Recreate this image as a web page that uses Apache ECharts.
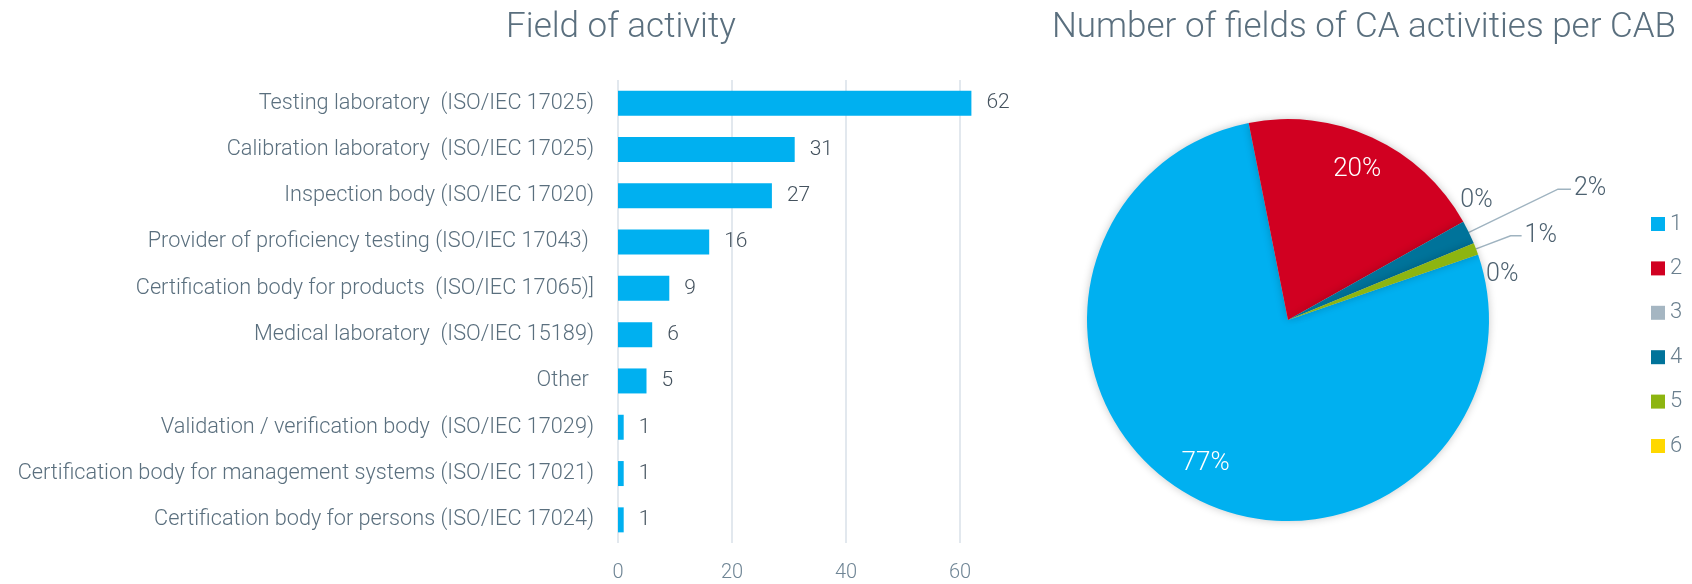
<!DOCTYPE html>
<html>
<head>
<meta charset="utf-8">
<title>Field of activity</title>
<script src="https://cdn.jsdelivr.net/npm/echarts@6/dist/echarts.min.js"></script>
<style>
    html, body { margin: 0; padding: 0; background: #fff; }
    #main { width: 1692px; height: 584px; }
</style>
</head>
<body>
<div id="main"></div>
<script>
var FONT = 'Roboto, "Open Sans", sans-serif';

// left chart: fields of activity
var activityNames = [
    'Testing laboratory  (ISO/IEC 17025)',
    'Calibration laboratory  (ISO/IEC 17025)',
    'Inspection body (ISO/IEC 17020)',
    'Provider of proficiency testing (ISO/IEC 17043) ',
    'Certification body for products  (ISO/IEC 17065)]',
    'Medical laboratory  (ISO/IEC 15189)',
    'Other ',
    'Validation / verification body  (ISO/IEC 17029)',
    'Certification body for management systems (ISO/IEC 17021)',
    'Certification body for persons (ISO/IEC 17024)'
];
var activityCounts = [62, 31, 27, 16, 9, 6, 5, 1, 1, 1];
var activityTicks = [0, 20, 40, 60];

// right chart: number of fields per CAB
var fieldsPerCab = ['1', '2', '3', '4', '5', '6'];
var cabCounts = [81, 21, 0, 2, 1, 0];
var cabColors = ['#00b0f0', '#d10021', '#a5b6c2', '#00739a', '#8db510', '#ffd800'];

// callout placement for the small slices (null = label inside the slice)
var callouts = [
    null,
    null,
    { line: false, length: 0, length2: 0, distance: -3, dx: 0, dy: -21 },
    { line: true, length: 99, length2: 13, distance: 3 },
    { line: true, length: 37, length2: 11, distance: 3 },
    { line: false, length: 0, length2: 0, distance: 3, dx: 5, dy: 20 }
];

var cabTotal = 0;
cabCounts.forEach(function (v) { cabTotal += v; });

function pct(params) {
    return Math.round(params.value / cabTotal * 100) + '%';
}

var outerData = [];
var innerData = [];
fieldsPerCab.forEach(function (name, i) {
    var c = callouts[i];
    outerData.push({
        name: name,
        value: cabCounts[i],
        itemStyle: { color: cabColors[i] },
        label: c ? { show: true, distanceToLabelLine: c.distance } : { show: false },
        labelLine: c ? { show: c.line, length: c.length, length2: c.length2 } : { show: false }
    });
    innerData.push({
        name: name,
        value: cabCounts[i],
        label: { show: !c }
    });
});

var chart = echarts.init(document.getElementById('main'));

var option = {
    animation: false,
    title: [{
        text: 'Field of activity',
        left: 616,
        top: 6,
        textAlign: 'center',
        textStyle: { fontFamily: FONT, fontSize: 35, fontWeight: 300, color: '#5a6f7e' }
    }, {
        text: 'Number of fields of CA activities per CAB',
        left: 1359,
        top: 6,
        textAlign: 'center',
        textStyle: { fontFamily: FONT, fontSize: 35, fontWeight: 300, color: '#5a6f7e' }
    }],
    legend: {
        orient: 'vertical',
        left: 1651,
        top: 213,
        padding: 0,
        icon: 'rect',
        itemWidth: 14,
        itemHeight: 14,
        itemGap: 22.4,
        selectedMode: false,
        data: fieldsPerCab,
        textStyle: { fontFamily: FONT, fontSize: 22, fontWeight: 300, color: '#6a7f8e', lineHeight: 22 }
    },
    grid: {
        left: 618,
        right: 675,
        top: 80,
        bottom: 41,
        outerBoundsMode: 'none'
    },
    xAxis: {
        type: 'value',
        min: 0,
        max: 70,
        interval: 20,
        axisLine: { show: false },
        axisTick: { show: false },
        axisLabel: {
            customValues: activityTicks,
            margin: 20,
            fontFamily: FONT, fontSize: 20, fontWeight: 300, color: '#6f8595'
        },
        splitLine: {
            show: true,
            showMaxLine: false,
            lineStyle: { color: '#d8e1e8', width: 1.5 }
        }
    },
    yAxis: {
        type: 'category',
        inverse: true,
        data: activityNames,
        axisLine: { show: false },
        axisTick: { show: false },
        axisLabel: {
            margin: 24,
            fontFamily: FONT, fontSize: 21.7, fontWeight: 300, color: '#5a6f7e'
        }
    },
    series: [{
        type: 'bar',
        data: activityCounts,
        barWidth: 25,
        itemStyle: { color: '#00b0f0' },
        label: {
            show: true,
            position: 'right',
            distance: 15,
            fontFamily: FONT, fontSize: 21, fontWeight: 300, color: '#44525e'
        },
        emphasis: { disabled: true }
    }, {
        type: 'pie',
        center: [1288, 320],
        radius: 201,
        startAngle: 19,
        clockwise: true,
        avoidLabelOverlap: false,
        itemStyle: { borderWidth: 0, shadowBlur: 8, shadowColor: 'rgba(0, 0, 0, 0.22)' },
        label: {
            position: 'outside',
            formatter: pct,
            fontFamily: FONT, fontSize: 25, fontWeight: 300, color: '#4d6170'
        },
        labelLine: { smooth: false, lineStyle: { color: '#9fb3c0', width: 1.5 } },
        // nudge the line-less "0%" labels to where the report put them
        labelLayout: function (params) {
            var c = callouts[params.dataIndex];
            if (c && !c.line) {
                return { dx: c.dx, dy: c.dy };
            }
            return {};
        },
        emphasis: { disabled: true },
        data: outerData
    }, {
        // transparent ring, only carries the inside labels further out
        type: 'pie',
        center: [1288, 320],
        radius: [124, 201],
        startAngle: 19,
        clockwise: true,
        silent: true,
        legendHoverLink: false,
        itemStyle: { color: 'rgba(0,0,0,0)', borderWidth: 0 },
        label: {
            position: 'inside',
            formatter: pct,
            fontFamily: FONT, fontSize: 26, fontWeight: 300, color: '#ffffff'
        },
        labelLine: { show: false },
        emphasis: { disabled: true },
        data: innerData
    }]
};

chart.setOption(option);
</script>
</body>
</html>
